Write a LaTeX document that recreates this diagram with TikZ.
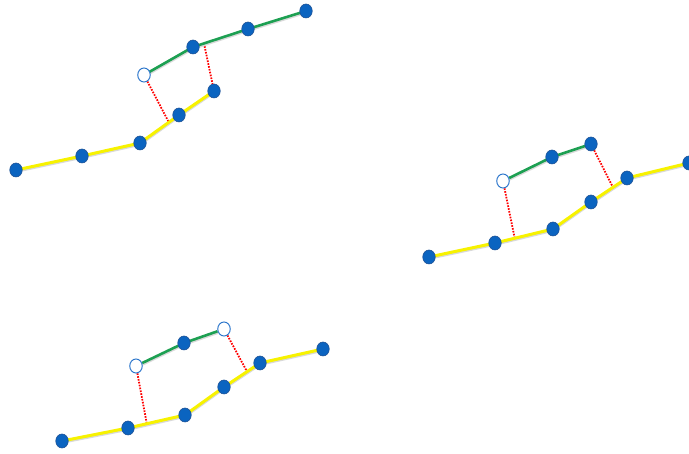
\documentclass[tikz,border=0pt]{standalone}
\usetikzlibrary{shapes.geometric,calc,backgrounds}
\definecolor{dotblue}{HTML}{0B64C0}
\definecolor{dotedge}{HTML}{1E5296}
\definecolor{ringblue}{HTML}{2F78CC}
\definecolor{trackyellow}{HTML}{F7F200}
\definecolor{trackgreen}{HTML}{1DA052}
\begin{document}
\begin{tikzpicture}[x=1pt,y=-1pt,
  dot/.style={ellipse,draw=dotedge,fill=dotblue,line width=0.6pt,
    minimum width=12.5pt,minimum height=14pt,inner sep=0pt},
  hole/.style={dot,draw=ringblue,fill=white,line width=1pt},
  shade/.style={preaction={draw=black!15,line width=3pt,
    transform canvas={yshift=-1.3pt}}},
  low/.style={shade,draw=trackyellow,line width=3pt},
  high/.style={shade,draw=trackgreen,line width=2.6pt},
  link/.style={draw=red,line width=1.8pt,dash pattern=on 1.6pt off 1.3pt}]
\useasboundingbox (0,0) rectangle (689,454);
% upper left
\foreach \i/\x/\y in {1/16/170,2/82/156,3/140/143,4/179/115,5/214/91}{
  \node[dot] (a\i) at (\x,\y) {};}
\node[hole] (b1) at (144,75) {};
\foreach \i/\x/\y in {2/193/47,3/248/29,4/306/11}{
  \node[dot] (b\i) at (\x,\y) {};}
\coordinate (ra) at ($(a3)!0.74!(a4)$);
\coordinate (rb) at ($(b2)!0.2!(b3)$);
% right
\foreach \i/\x/\y in {1/429/257,2/495/243,3/553/229,4/591/202,5/627/178,6/689/163}{
  \node[dot] (c\i) at (\x,\y) {};}
\node[hole] (d1) at (503,181) {};
\foreach \i/\x/\y in {2/552/157,3/591/144}{
  \node[dot] (d\i) at (\x,\y) {};}
\coordinate (rc) at ($(c2)!0.34!(c3)$);
\coordinate (rd) at ($(c4)!0.61!(c5)$);
% bottom
\foreach \i/\x/\y in {1/62/441,2/128/428,3/185/415,4/224/387,5/260/363,6/323/349}{
  \node[dot] (e\i) at (\x,\y) {};}
\node[hole] (f1) at (136,366) {};
\node[dot] (f2) at (184,343) {};
\node[hole] (f3) at (224,329) {};
\coordinate (re) at ($(e2)!0.33!(e3)$);
\coordinate (rf) at ($(e4)!0.64!(e5)$);
\begin{scope}[on background layer]
\draw[link] (b1) -- (ra);
\draw[link] (rb) -- (a5);
\draw[link] (d1) -- (rc);
\draw[link] (d3) -- (rd);
\draw[link] (f1) -- (re);
\draw[link] (f3) -- (rf);
\draw[low] (a1.center) -- (a2.center) -- (a3.center) -- (a4.center) -- (a5.center);
\draw[high] (b1.center) -- (b2.center) -- (b3.center) -- (b4.center);
\draw[low] (c1.center) -- (c2.center) -- (c3.center) -- (c4.center) -- (c5.center) -- (c6.center);
\draw[high] (d1) -- (d2.center) -- (d3.center);
\draw[low] (e1.center) -- (e2.center) -- (e3.center) -- (e4.center) -- (e5.center) -- (e6.center);
\draw[high] (f1) -- (f2.center) -- (f3);
\end{scope}
\end{tikzpicture}
\end{document}
